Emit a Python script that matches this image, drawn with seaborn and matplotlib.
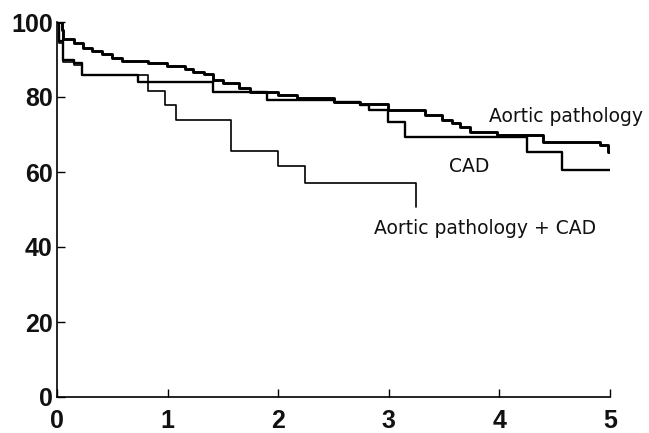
import matplotlib
matplotlib.use("Agg")
import matplotlib.pyplot as plt
import seaborn as sns
import pandas as pd

# Data (years vs. survival %)
aortic_t = [0, 0.045, 0.054, 0.154, 0.235, 0.316, 0.407, 0.497, 0.588, 0.823, 0.995,
            1.157, 1.23, 1.33, 1.41, 1.50, 1.65, 1.745, 2.0, 2.17, 2.50, 2.74, 2.99,
            3.33, 3.48, 3.57, 3.64, 3.73, 3.98, 4.39, 4.91, 4.98, 5.0]
aortic_s = [100, 98, 95.5, 94.4, 93, 92.3, 91.5, 90.4, 89.6, 89, 88.3,
            87.5, 86.7, 86.1, 84.5, 83.7, 82.4, 81.3, 80.5, 79.7, 78.7, 78.1, 76.5,
            75.2, 73.9, 73, 72, 70.7, 69.9, 68, 67.2, 65.3, 65.3]

cad_t = [0, 0.02, 0.05, 0.15, 0.23, 0.73, 1.41, 1.90, 2.50, 2.74, 2.82, 2.99, 3.15,
         4.25, 4.57, 5.0]
cad_s = [100, 95, 90, 89, 86, 84, 81.3, 79.3, 78.7, 77.9, 76.5, 73.3, 69.3,
         65.3, 60.5, 60.5]

combo_t = [0, 0.02, 0.05, 0.15, 0.23, 0.82, 0.98, 1.08, 1.57, 2.0, 2.24, 3.25]
combo_s = [100, 94.4, 89.3, 88.5, 86, 81.6, 78, 73.9, 65.7, 61.7, 57.1, 50.7]

x_ticks = [0, 1, 2, 3, 4, 5]
y_ticks = [0, 20, 40, 60, 80, 100]

sns.set_theme(style="ticks")
plt.rcParams['font.family'] = ['Liberation Sans', 'DejaVu Sans']

fig = plt.figure(figsize=(6.49, 4.33), dpi=100)
ax = fig.add_axes([57/649, 36/433, 553/649, 375/433])

series = [
    (aortic_t, aortic_s, 2.1),
    (cad_t, cad_s, 1.7),
    (combo_t, combo_s, 1.2),
]
for t, s, lw in series:
    df = pd.DataFrame({"t": t, "s": s})
    sns.lineplot(data=df, x="t", y="s", ax=ax, color="black", linewidth=lw,
                 drawstyle="steps-post", estimator=None, sort=False)

ax.set_xlim(0, 5)
ax.set_ylim(0, 100)
ax.set_xticks(x_ticks)
ax.set_yticks(y_ticks)
ax.set_xlabel("")
ax.set_ylabel("")
for sp in ["top", "right"]:
    ax.spines[sp].set_visible(False)
for sp in ["left", "bottom"]:
    ax.spines[sp].set_linewidth(1.2)
    ax.spines[sp].set_color("black")
    ax.spines[sp].set_clip_on(False)

ax.tick_params(axis="both", direction="in", length=6, width=1.0, color="black",
               labelsize=18, labelcolor="#111111")
ax.tick_params(axis="x", pad=9)
ax.tick_params(axis="y", pad=3)
for lab in ax.get_xticklabels() + ax.get_yticklabels():
    lab.set_fontweight("bold")

lab_font = dict(fontsize=13.5, ha="center", va="center", color="#111111",
                family=["DejaVu Sans"])
ax.text(4.6, 74.7, "Aortic pathology", **lab_font)
ax.text(3.73, 61.6, "CAD", **lab_font)
ax.text(3.87, 44.8, "Aortic pathology + CAD", **lab_font)

fig.savefig("out.png", dpi=100)
